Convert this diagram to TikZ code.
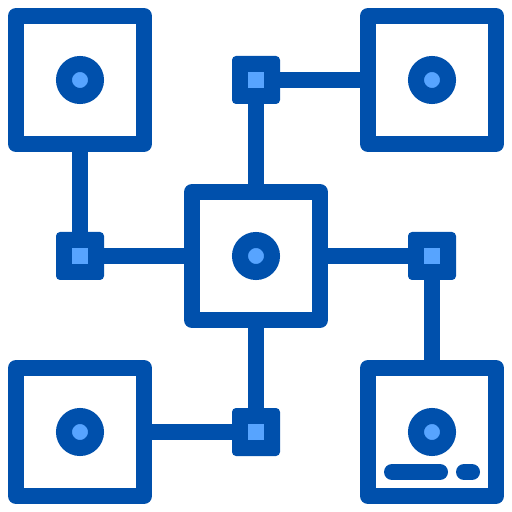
\documentclass[tikz,border=0pt]{standalone}
\usetikzlibrary{positioning}
\definecolor{dunkelblau}{RGB}{0,80,172}
\definecolor{hellblau}{RGB}{87,164,255}
\tikzset{
    kasten/.style={
        rectangle,
        draw=dunkelblau,     % Dicke dunkelblaue Kontur
        fill=white,          % Weiße Innenfläche
        line width=8pt,
        line join=round,
        inner sep=0pt,
        minimum size=64pt
    },
    knoten/.style={
        rectangle,
        fill=dunkelblau,
        rounded corners=2pt,
        inner sep=0pt,
        minimum size=24pt
    },
    kern/.style={
        rectangle,
        fill=hellblau,
        inner sep=0pt,
        minimum size=8pt
    },
    punkt/.style={
        circle,
        draw=dunkelblau,
        fill=hellblau,
        line width=8pt,
        inner sep=0pt,
        minimum size=16pt
    },
    leitung/.style={
        draw=dunkelblau,
        line width=8pt
    },
    balken/.style={
        draw=dunkelblau,
        line width=8pt,
        line cap=round
    }
}
\begin{document}
\begin{tikzpicture}[x=0.5pt, y=-0.5pt]

    \useasboundingbox (0,0) rectangle (512,512);

    % Die fünf großen Kästen
    \node[kasten] (obenlinks)   at (80,80)   {};
    \node[kasten] (obenrechts)  at (432,80)  {};
    \node[kasten] (mitte)       at (256,256) {};
    \node[kasten] (untenlinks)  at (80,432)  {};
    \node[kasten] (untenrechts) at (432,432) {};

    % Kleine Verbindungsknoten
    \node[knoten] (oben)   at (256,80)  {};
    \node[knoten] (links)  at (80,256)  {};
    \node[knoten] (rechts) at (432,256) {};
    \node[knoten] (unten)  at (256,432) {};

    % Leitungen zwischen den Elementen
    \path[leitung] (obenlinks) -- (links);
    \path[leitung] (links) -- (mitte);
    \path[leitung] (oben) -- (obenrechts);
    \path[leitung] (oben) -- (mitte);
    \path[leitung] (mitte) -- (rechts);
    \path[leitung] (rechts) -- (untenrechts);
    \path[leitung] (mitte) -- (unten);
    \path[leitung] (unten) -- (untenlinks);

    % Hellblaue Kerne der Knoten
    \foreach \k in {oben, links, rechts, unten} {
        \node[kern] at (\k) {};
    }

    % Kreise in den Kästen
    \foreach \k in {obenlinks, obenrechts, mitte, untenlinks, untenrechts} {
        \node[punkt] at (\k) {};
    }

    % Balken im Kasten unten rechts
    \draw[balken] (392,472) -- (440,472);
    \draw[balken] (464,472) -- (472,472);

\end{tikzpicture}
\end{document}
